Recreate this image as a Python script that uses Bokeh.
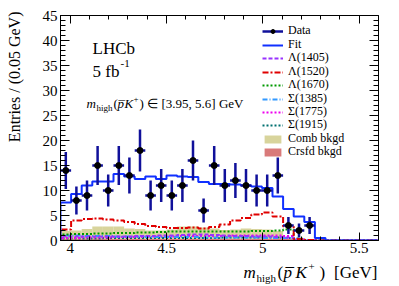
import math
from bokeh.plotting import figure
from bokeh.layouts import row, column
from bokeh.models import (Range1d, LinearAxis, Label, Legend, LegendItem,
                          SingleIntervalTicker, FixedTicker)
from bokeh.embed import file_html
from bokeh.resources import INLINE

# ---------------- data ----------------
x_lo, x_hi, n_bins = 3.95, 5.6, 30
y_lo, y_hi = 0, 45

data_counts = [14, 8, 9, 15, 10, 15, 13, 18, 9, 11, 9, 11, 16, 6, 15, 11, 12, 11,
               10, 10, 13, 3, 2, 3, 0, 0, 0, 0, 0, 0]
data_errors = [3.7, 2.8, 3.0, 3.9, 3.2, 3.9, 3.6, 4.2, 3.0, 3.3, 3.0, 3.3, 4.0, 2.4,
               3.9, 3.3, 3.5, 3.3, 3.2, 3.2, 3.6, 1.7, 1.4, 1.7, 0, 0, 0, 0, 0, 0]
fit = [7.6, 9.3, 11.0, 11.8, 11.8, 13.3, 12.8, 12.3, 12.8, 12.3, 13.0, 12.8, 12.7, 11.7,
       11.3, 11.3, 11.2, 11.0, 10.8, 10.5, 8.8, 6.3, 4.8, 3.7, 0.5, 0, 0, 0, 0, 0]
lam1405 = [0.8, 0.8, 0.8, 0.8, 0.8, 0.8, 0.8, 0.9, 0.9, 1.0, 1.0, 1.1, 1.2, 1.2, 1.1,
           1.0, 0.9, 0.9, 0.8, 0.8, 0.7, 0.6, 0.2, 0.1, 0, 0, 0, 0, 0, 0]
lam1520 = [2.2, 4.0, 4.3, 4.4, 4.2, 4.0, 3.7, 3.3, 2.9, 2.7, 2.5, 2.5, 2.6, 2.4, 2.7,
           3.2, 4.0, 4.5, 5.2, 5.6, 4.8, 2.8, 0.3, 0.1, 0, 0, 0, 0, 0, 0]
lam1670 = [1.2, 1.3, 1.3, 1.4, 1.4, 1.5, 1.5, 1.6, 1.6, 1.7, 1.8, 1.8, 1.8, 1.8, 1.8,
           1.8, 1.8, 1.8, 1.9, 1.9, 2.0, 2.2, 0.4, 0.1, 0, 0, 0, 0, 0, 0]
sig1385 = [1.0, 1.0, 0.9, 0.9, 0.9, 0.8, 0.8, 0.8, 0.7, 0.7, 0.7, 0.7, 0.7, 0.6, 0.6,
           0.6, 0.6, 0.6, 0.6, 0.5, 0.5, 0.5, 0.1, 0, 0, 0, 0, 0, 0, 0]
sig1775 = [0.5, 0.5, 0.6, 0.6, 0.6, 0.7, 0.7, 0.7, 0.8, 0.8, 0.8, 0.9, 0.9, 0.9, 0.9,
           0.9, 1.0, 1.0, 1.0, 1.0, 1.0, 0.9, 0.2, 0.1, 0, 0, 0, 0, 0, 0]
sig1915 = [0.4, 0.4, 0.4, 0.4, 0.5, 0.5, 0.5, 0.5, 0.5, 0.5, 0.5, 0.5, 0.5, 0.5, 0.5,
           0.6, 0.6, 0.6, 0.6, 0.6, 0.6, 0.5, 0.1, 0, 0, 0, 0, 0, 0, 0]
comb = [1.9, 2.0, 2.3, 2.8, 2.8, 2.8, 2.4, 2.3, 2.0, 2.0, 2.2, 2.8, 2.8, 2.6, 2.4,
        2.1, 2.2, 2.4, 2.3, 2.2, 1.9, 0.6, 0.3, 0.2, 0.1, 0, 0, 0, 0, 0]
crsfd = [0.3, 0.3, 0.3, 0.3, 0.3, 0.3, 0.3, 0.3, 0.3, 0.3, 0.3, 0.3, 0.3, 0.3, 0.3,
         0.3, 0.3, 0.3, 0.3, 0.3, 0.3, 0.3, 0.2, 0.1, 0.1, 0, 0, 0, 0, 0]

legend_labels = ["Data", "Fit", "Λ(1405)", "Λ(1520)", "Λ(1670)", "Σ(1385)",
                 "Σ(1775)", "Σ(1915)", "Comb bkgd", "Crsfd bkgd"]
y_ticks_step = 5
x_ticks_step = 0.5
x_tick_labels = {4: "4", 4.5: "4.5", 5: "5", 5.5: "5.5"}

# ---------------- geometry ----------------
bw = (x_hi - x_lo) / n_bins
edges = [x_lo + i * bw for i in range(n_bins + 1)]
centers = [x_lo + (i + 0.5) * bw for i in range(n_bins)]

FONT = "Liberation Serif"
TOTAL_W, TOTAL_H = 399, 286
YT_W = 38                      # left strip for the y title
MAIN_W = TOTAL_W - YT_W
MAIN_H = 259
XT_H = TOTAL_H - MAIN_H
FL, FT, FR, FB = 60, 15, 378, 240   # frame in window px

p = figure(width=MAIN_W, height=MAIN_H, output_backend="svg", toolbar_location=None,
           x_range=Range1d(x_lo, x_hi), y_range=Range1d(y_lo, y_hi),
           min_border_left=FL - YT_W, min_border_right=TOTAL_W - FR,
           min_border_top=FT, min_border_bottom=MAIN_H - FB,
           background_fill_color="white", border_fill_color="white")
p.grid.visible = False
p.outline_line_color = "black"
p.outline_line_width = 1

xt = SingleIntervalTicker(interval=x_ticks_step, num_minor_ticks=5)
yt = SingleIntervalTicker(interval=y_ticks_step, num_minor_ticks=5)


def style_axis(ax, xlike=True):
    ax.major_tick_in = 8 if xlike else 9
    ax.major_tick_out = 0
    ax.minor_tick_in = 4 if xlike else 5
    ax.minor_tick_out = 0
    ax.axis_line_color = "black"
    ax.major_tick_line_color = "black"
    ax.minor_tick_line_color = "black"
    ax.major_label_text_font = FONT
    ax.major_label_text_color = "black"
    ax.major_label_text_font_size = "15px"
    ax.major_label_standoff = 2 if xlike else 3


p.xaxis[0].ticker = xt
style_axis(p.xaxis[0], True)
p.xaxis[0].major_label_overrides = x_tick_labels
p.yaxis[0].ticker = yt
style_axis(p.yaxis[0], False)

# mirrored tick marks on top and right (no labels): minor-only fixed tickers
x_major_pos = [4 + x_ticks_step * i for i in range(4)]
x_minor_pos = [round(4 + 0.1 * i, 2) for i in range(17)]
y_major_pos = [y_ticks_step * i for i in range(10)]
y_minor_pos = list(range(0, 46))


def mirror_axis(positions, length, place, loc):
    ax = LinearAxis(ticker=FixedTicker(ticks=[], minor_ticks=positions),
                    fixed_location=loc, minor_tick_in=length, minor_tick_out=0,
                    major_tick_in=0, major_tick_out=0, axis_line_color="black",
                    minor_tick_line_color="black")
    p.add_layout(ax, place)


mirror_axis(x_minor_pos, 4, "above", y_hi)
mirror_axis(x_major_pos, 8, "above", y_hi)
mirror_axis(y_minor_pos, 5, "right", x_hi)
mirror_axis(y_major_pos, 9, "right", x_hi)

# ---------------- glyphs ----------------
r_comb = p.quad(left=edges[:-1], right=edges[1:], bottom=0, top=comb,
                fill_color="#d8d49c", line_color=None)
r_crsfd = p.quad(left=edges[:-1], right=edges[1:], bottom=0, top=crsfd,
                 fill_color="#d97a7a", line_color=None)


def hstep(vals, color, dash, width=2):
    xs = [edges[0]] + edges
    ys = [0] + list(vals) + [vals[-1]]
    return p.step(x=xs, y=ys, mode="after", line_color=color, line_width=width,
                  line_dash=dash)


r_s1915 = hstep(sig1915, "#007070", "2 2")
r_s1775 = hstep(sig1775, "#ee00ee", "2 2")
r_s1385 = hstep(sig1385, "#3399ff", "5 2 1 2")
r_l1670 = hstep(lam1670, "#009900", "2 2")
r_l1405 = hstep(lam1405, "#9933ff", "4 2")
r_l1520 = hstep(lam1520, "#e00000", "6 2 2 2")
r_fit = hstep(fit, "#1030ff", "solid")

dx, dy, de = [], [], []
for c, n, e in zip(centers, data_counts, data_errors):
    if n > 0:
        dx.append(c)
        dy.append(n)
        de.append(e)
p.segment(x0=dx, y0=[y - e for y, e in zip(dy, de)], x1=dx,
          y1=[y + e for y, e in zip(dy, de)], line_color="#10109a", line_width=2.5)
r_hbar = p.segment(x0=[x - bw / 2 for x in dx], y0=dy, x1=[x + bw / 2 for x in dx],
                   y1=dy, line_color="#10109a", line_width=2.5)
r_pts = p.scatter(x=dx, y=dy, size=6, marker="circle", fill_color="black",
                  line_color="black")

leg_renderers = [[r_hbar, r_pts], [r_fit], [r_l1405], [r_l1520], [r_l1670],
                 [r_s1385], [r_s1775], [r_s1915], [r_comb], [r_crsfd]]
LEG_X, LEG_Y0, LEG_DY, LEG_HALF = 262, 31, 13.4, 7.5
for i, (lbl, rends) in enumerate(zip(legend_labels, leg_renderers)):
    yc = LEG_Y0 + i * LEG_DY
    lg = Legend(items=[LegendItem(label=lbl, renderers=rends)],
                location=(LEG_X - FL, round(FB - yc - LEG_HALF)))
    lg.background_fill_alpha = 0
    lg.border_line_color = None
    lg.padding = 0
    lg.margin = 0
    lg.spacing = 0
    lg.glyph_width = 21
    lg.glyph_height = 10
    lg.label_height = 10
    lg.label_standoff = 5
    lg.label_text_font = FONT
    lg.label_text_font_size = "12px"
    lg.label_text_color = "black"
    p.add_layout(lg)


# ---------------- texts ----------------
def make_lab(fig, ox, oy, text, wx, wy, size, style="normal", align="left",
             baseline="alphabetic", angle=0.0):
    fig.add_layout(Label(x=wx - ox, y=oy - wy, x_units="screen", y_units="screen",
                         text=text, text_font=FONT, text_font_size=f"{size}px",
                         text_font_style=style, text_align=align,
                         text_baseline=baseline, angle=angle, text_color="black"))


def lab(*a, **k):
    make_lab(p, FL, FB, *a, **k)


lab("LHCb", 92, 48, 17)
lab("5 fb", 92, 71, 17)
lab("-1", 120, 63, 11)

# in-plot selection annotation
lab("m", 86, 103, 13, "italic")
lab("high", 96, 107, 9)
lab("(", 113, 103, 13)
lab("p", 117, 103, 13, "italic")
lab("\u00af", 118, 105, 13)
lab("K", 124, 103, 13, "italic")
lab("+", 133, 98, 9)
lab(")", 139, 103, 13)
lab("∈", 146, 103, 13)
lab("[3.95, 5.6] GeV", 243, 103, 13, align="right")


def blank_fig(w, h, bl=0, br=0):
    f = figure(width=w, height=h, output_backend="svg", toolbar_location=None,
               x_range=Range1d(0, 1), y_range=Range1d(0, 1),
               x_axis_location=None, y_axis_location=None, min_border=0,
               min_border_left=bl, min_border_right=br,
               background_fill_color="white", border_fill_color="white")
    f.grid.visible = False
    f.outline_line_color = None
    if "frame_align" in f.properties():
        f.frame_align = False
    return f


# x axis title (strip below the main figure; frame spans same x as main frame)
fx = blank_fig(MAIN_W, XT_H, FL - YT_W, TOTAL_W - FR)


def xlab(*a, **k):
    make_lab(fx, FL, TOTAL_H, *a, **k)


xlab("m", 243, 272, 17, "italic")
xlab("high", 256, 277, 11)
xlab("(", 277, 272, 17)
xlab("p", 283, 272, 17, "italic")
xlab("\u00af", 285, 274, 17)
xlab("K", 295, 272, 17, "italic")
xlab("+", 308, 266, 11)
xlab(")", 319, 272, 17)
xlab("[GeV]", 377, 272, 17, align="right")

# y axis title (strip left of the main figure)
fy = blank_fig(YT_W, TOTAL_H)
make_lab(fy, 0, TOTAL_H, "Entries / (0.05 GeV)", 14, 11, 16, align="right",
         baseline="middle", angle=math.pi / 2)

layout = row(fy, column(p, fx, spacing=0), spacing=0)
open("out.html", "w").write(file_html(layout, INLINE))
